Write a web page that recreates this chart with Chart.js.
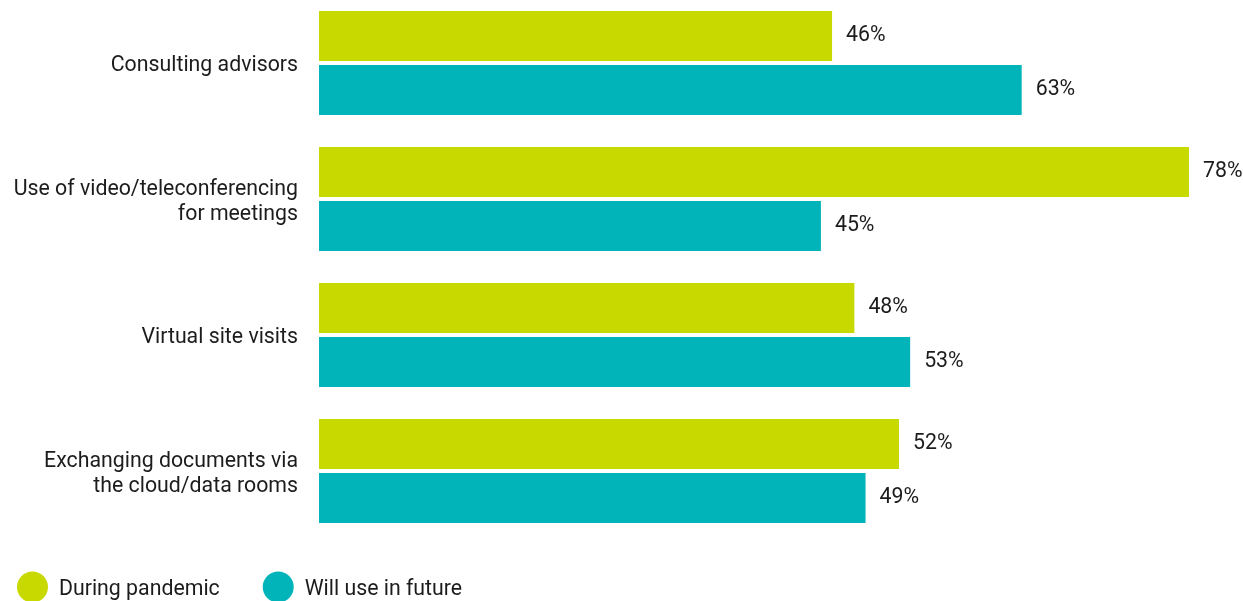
<!DOCTYPE html>
<html>
<head>
<meta charset="utf-8">
<script src="https://cdn.jsdelivr.net/npm/chart.js@4.4.1/dist/chart.umd.min.js"></script>
<style>
  html, body { margin: 0; padding: 0; background: #ffffff; }
  #wrap { width: 1243px; height: 601px; }
</style>
</head>
<body>
<div id="wrap"><canvas id="chart" width="1243" height="601"></canvas></div>
<script>
// Survey categories (multi-line labels as arrays)
const categories = [
  ['Consulting advisors'],
  ['Use of video/teleconferencing', 'for meetings'],
  ['Virtual site visits'],
  ['Exchanging documents via', 'the cloud/data rooms']
];
const seriesNames = ['During pandemic', 'Will use in future'];
const duringPandemic = [46, 78, 48, 52];
const willUseInFuture = [63, 45, 53, 49];

const GREEN = '#c8d900';
const TEAL = '#00b4b9';
const TEXT = '#1c1c1c';
const FONT = 'Roboto, "Noto Sans", sans-serif';
const FONT_SIZE = 21.3;

// Percentage labels at the end of each bar
const valueLabels = {
  id: 'valueLabels',
  afterDatasetsDraw(chart) {
    const ctx = chart.ctx;
    ctx.save();
    ctx.font = FONT_SIZE + 'px ' + FONT;
    ctx.fillStyle = TEXT;
    ctx.textAlign = 'left';
    ctx.textBaseline = 'middle';
    chart.data.datasets.forEach((ds, i) => {
      const meta = chart.getDatasetMeta(i);
      meta.data.forEach((bar, j) => {
        ctx.fillText(ds.data[j] + '%', bar.x + 14, bar.y);
      });
    });
    ctx.restore();
  }
};

// Legend row along the bottom edge with large round swatches
const circleLegend = {
  id: 'circleLegend',
  afterDraw(chart) {
    const ctx = chart.ctx;
    ctx.save();
    ctx.font = FONT_SIZE + 'px ' + FONT;
    ctx.textBaseline = 'middle';
    ctx.textAlign = 'left';
    const y = 587;
    const r = 15.5;
    let x = 17;
    chart.data.datasets.forEach(ds => {
      ctx.fillStyle = ds.backgroundColor;
      ctx.beginPath();
      ctx.arc(x + r, y, r, 0, Math.PI * 2);
      ctx.fill();
      const tx = x + 2 * r + 11;
      ctx.fillStyle = TEXT;
      ctx.fillText(ds.label, tx, y + 3);
      x = tx + ctx.measureText(ds.label).width + 43;
    });
    ctx.restore();
  }
};

new Chart(document.getElementById('chart'), {
  type: 'bar',
  data: {
    labels: categories,
    datasets: [
      { label: seriesNames[0], data: duringPandemic, backgroundColor: GREEN, clip: false },
      { label: seriesNames[1], data: willUseInFuture, backgroundColor: TEAL, clip: false }
    ]
  },
  options: {
    indexAxis: 'y',
    responsive: false,
    animation: false,
    maintainAspectRatio: false,
    categoryPercentage: 0.794,
    barPercentage: 0.926,
    layout: { padding: { top: 63, bottom: 130, left: 0, right: 31.7 } },
    plugins: {
      legend: { display: false },
      tooltip: { enabled: false }
    },
    scales: {
      x: {
        display: false,
        min: 0,
        max: 80
      },
      y: {
        offset: false,
        grid: { display: false, drawTicks: false },
        border: { display: false },
        ticks: {
          padding: 21,
          labelOffset: 3,
          color: TEXT,
          font: { family: FONT, size: FONT_SIZE, lineHeight: 1.2 }
        },
        afterFit(scale) { scale.width = 319; }
      }
    }
  },
  plugins: [valueLabels, circleLegend]
});
</script>
</body>
</html>
